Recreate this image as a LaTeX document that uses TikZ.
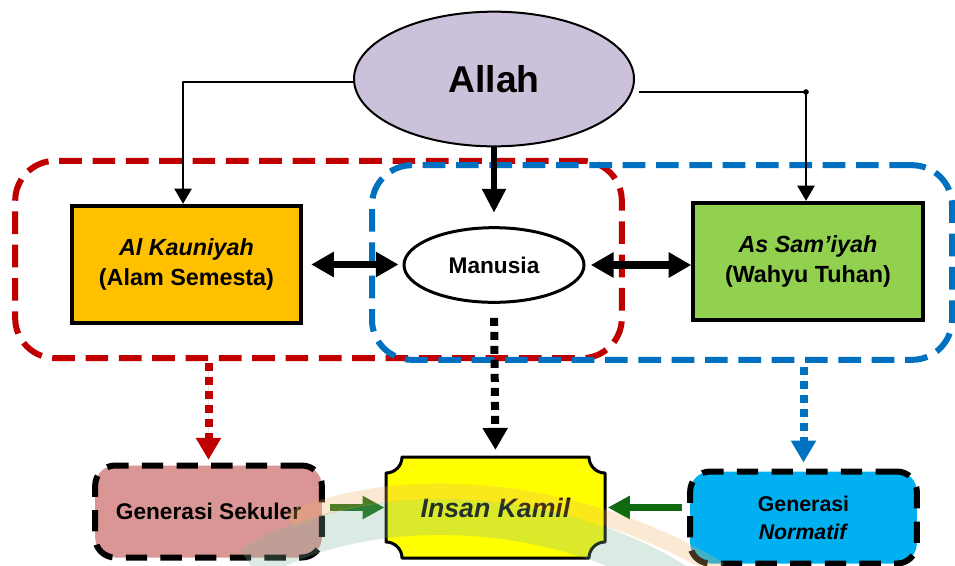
\documentclass[tikz,border=0pt]{standalone}
\usepackage{fontspec}
\setmainfont{Liberation Sans}
\usetikzlibrary{arrows.meta,shapes.geometric}

\definecolor{allahfill}{HTML}{CCC1DA}
\definecolor{kaufill}{HTML}{FFC000}
\definecolor{samfill}{HTML}{92D050}
\definecolor{grpred}{HTML}{C00000}
\definecolor{grpblue}{HTML}{0070C0}
\definecolor{sekfill}{HTML}{D99694}
\definecolor{norfill}{HTML}{00B0F0}
\definecolor{insfill}{HTML}{FFFF00}
\definecolor{arrowgreen}{HTML}{106A10}
\definecolor{markorange}{HTML}{F0B060}
\definecolor{markgreen}{HTML}{7FB39A}

\begin{document}
\begin{tikzpicture}[x=0.75pt,y=-0.75pt,
  grp/.style={draw, rounded corners=30pt, line width=4.5pt,
    dash pattern=on 17pt off 8pt, inner sep=0pt},
  srcbox/.style={draw=black, line width=3pt, inner sep=0pt,
    minimum width=172pt, minimum height=88pt, align=center,
    font=\bfseries\fontsize{17.5}{23}\selectfont},
  genbox/.style={draw=black, rounded corners=15pt, line width=4.5pt,
    dash pattern=on 16pt off 10pt, inner sep=0pt,
    minimum width=170pt, minimum height=69pt, align=center,
    font=\bfseries\fontsize{16}{21}\selectfont},
  thinlink/.style={line width=1.5pt, line join=round,
    -{Triangle[width=13pt,length=11.5pt]}},
  twoway/.style={line width=5.5pt,
    {Triangle[width=18pt,length=17pt]}-{Triangle[width=18pt,length=17pt]}},
  bigdown/.style={line width=4.5pt, -{Triangle[width=17pt,length=18pt]}},
  dotlink/.style={line width=6pt, dash pattern=on 6pt off 4.5pt,
    -{Triangle[width=18pt,length=16.5pt]}},
  greenlink/.style={draw=arrowgreen, line width=5.5pt,
    -{Triangle[width=16.5pt,length=16.5pt]}}
]
\useasboundingbox (0,0) rectangle (955,565);

% dashed groupings of the two sources
\node[grp, draw=grpred, minimum width=455pt, minimum height=148pt]
  (grpA) at (318.5,259.5) {};
\node[grp, draw=grpblue, minimum width=435pt, minimum height=146pt]
  (grpB) at (662,262.5) {};

% top: Allah
\node[ellipse, draw=black, line width=1.5pt, fill=allahfill, inner sep=0pt,
  minimum width=210pt, minimum height=101pt,
  font=\bfseries\fontsize{28}{32}\selectfont] (allah) at (494,79) {Allah};

% the two sources and man between them
\node[srcbox, fill=kaufill] (kau) at (186.5,264.5)
  {\textit{Al Kauniyah}\\(Alam Semesta)};
\node[srcbox, fill=samfill] (sam) at (808,261.5)
  {\textit{As Sam’iyah}\\(Wahyu Tuhan)};
\node[ellipse, draw=black, line width=2.25pt, fill=white, inner sep=0pt,
  minimum width=135pt, minimum height=56pt,
  font=\bfseries\fontsize{17}{20}\selectfont] (manusia) at (494,265) {Manusia};

% bottom row
\node[genbox, fill=sekfill, font=\bfseries\fontsize{17}{21}\selectfont]
  (gsek) at (208.5,511.5) {Generasi Sekuler};
\node[genbox, fill=norfill] (gnor) at (803.5,517.5) {Generasi\\\textit{Normatif}};

% plaque outline with concave corners
\fill[insfill] (402,457) -- (589,457)
  arc[start angle=180,end angle=90,radius=16] -- (605,542)
  arc[start angle=270,end angle=180,radius=16] -- (402,558)
  arc[start angle=0,end angle=-90,radius=16] -- (386,473)
  arc[start angle=90,end angle=0,radius=16] -- cycle;
\draw[line width=2.25pt, line join=round] (402,457) -- (589,457)
  arc[start angle=180,end angle=90,radius=16] -- (605,542)
  arc[start angle=270,end angle=180,radius=16] -- (402,558)
  arc[start angle=0,end angle=-90,radius=16] -- (386,473)
  arc[start angle=90,end angle=0,radius=16] -- cycle;
\node[inner sep=0pt, minimum width=164pt, minimum height=76pt,
  font=\bfseries\itshape\fontsize{20}{24}\selectfont] (insan) at (495.5,507.5)
  {Insan Kamil};

% links from Allah
\path ([yshift=-2.25pt]allah.west) coordinate (lstart)
      ([xshift=-2.6pt]kau.north) coordinate (lend)
      ([xshift=3pt,yshift=-9.75pt]allah.east) coordinate (rstart)
      ([xshift=-1.5pt]sam.north) coordinate (rend);
\draw[thinlink] (lstart) -| (lend);
\draw[thinlink] (rstart) -| (rend);
\fill (rstart -| rend) circle (2.8);
\draw[bigdown, shorten >=10pt] (allah.south) -- (manusia.north);

% interaction of man with both sources
\draw[twoway, shorten <=6pt, shorten >=3pt] (kau.east) -- (kau.east -| manusia.west);
\draw[twoway, shorten <=4pt] (manusia.east) -- (manusia.east -| sam.west);

% outcomes
\draw[dotlink, draw=grpred, fill=grpred, shorten <=1.5pt, shorten >=2pt]
  (gsek.north |- grpA.south) -- (gsek.north);
\draw[dotlink, draw=black, shorten <=10.5pt, shorten >=5pt]
  (manusia.south) -- (insan.north);
\draw[dotlink, draw=grpblue, fill=grpblue, shorten <=3pt, shorten >=4.5pt]
  (gnor.north |- grpB.south) -- (gnor.north);

\draw[greenlink, shorten <=3.75pt, shorten >=1pt]
  (insan.west -| gsek.east) -- (insan.west);
\draw[greenlink, shorten <=3.75pt, shorten >=2pt]
  (insan.east -| gnor.west) -- (insan.east);

% faint emblem in the background
\begin{scope}[opacity=0.28]
  \draw[markgreen, line width=27pt] (250,565) .. controls (360,495) and (560,500) .. (690,590);
  \draw[markorange, line width=12pt] (290,520) .. controls (400,470) and (580,485) .. (720,570);
\end{scope}
\end{tikzpicture}
\end{document}
